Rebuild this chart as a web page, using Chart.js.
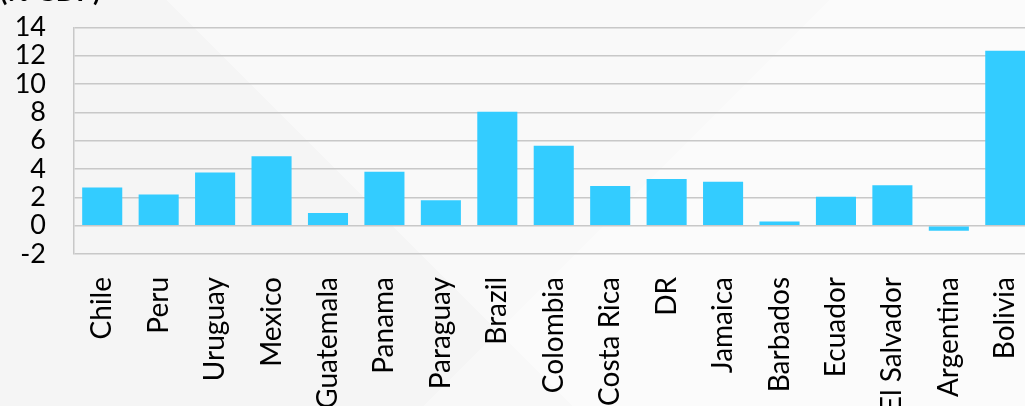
<!DOCTYPE html>
<html>
<head>
<meta charset="utf-8">
<script src="https://cdn.jsdelivr.net/npm/chart.js@4"></script>
<style>
  html, body { margin: 0; padding: 0; }
  body {
    width: 1025px; height: 406px; overflow: hidden; position: relative;
    background:
      linear-gradient(135deg, rgba(255,255,255,0) 58%, rgba(255,255,255,0.35) 58%),
      linear-gradient(45deg, #f5f5f5 40%, #f9f9f9 40%);
  }
  #wrap { position: absolute; left: 0; top: -30px; width: 1054px; height: 480px; }
</style>
</head>
<body>
<div id="wrap"><canvas id="gdpChart"></canvas></div>
<script>
document.addEventListener('DOMContentLoaded', () => {
    // Data (% of GDP)
    const countries = ['Chile', 'Peru', 'Uruguay', 'Mexico', 'Guatemala', 'Panama', 'Paraguay', 'Brazil',
        'Colombia', 'Costa Rica', 'DR', 'Jamaica', 'Barbados', 'Ecuador', 'El Salvador', 'Argentina', 'Bolivia'];
    const values = [2.7, 2.2, 3.75, 4.9, 0.9, 3.8, 1.8, 8.05, 5.65, 2.8, 3.3, 3.1, 0.3, 2.05, 2.85, -0.35, 12.35];
    const yTicks = [-2, 0, 2, 4, 6, 8, 10, 12, 14];

    const font = (size) => ({ family: 'Lato', size: size });

    const config = {
        type: 'bar',
        data: {
            labels: countries,
            datasets: [{
                data: values,
                backgroundColor: '#33ccff',
                borderWidth: 0,
                categoryPercentage: 1,
                barPercentage: 0.71
            }]
        },
        options: {
            responsive: true,
            maintainAspectRatio: false,
            animation: false,
            layout: { padding: { left: 0, right: 4, top: 0, bottom: 0 } },
            plugins: {
                legend: { display: false },
                tooltip: { enabled: false },
                title: {
                    display: true,
                    text: '(% GDP)',
                    align: 'start',
                    color: '#000',
                    font: font(27),
                    padding: { top: 6, bottom: 19 }
                }
            },
            scales: {
                x: {
                    grid: { display: false },
                    border: { display: false },
                    ticks: {
                        color: '#000', font: font(28),
                        autoSkip: false,
                        minRotation: 90, maxRotation: 90,
                        padding: 15
                    },
                    afterFit: (axis) => { axis.height = 196; }
                },
                y: {
                    min: yTicks[0],
                    max: yTicks[yTicks.length - 1],
                    afterBuildTicks: (axis) => { axis.ticks = yTicks.map(v => ({ value: v })); },
                    grid: { color: '#c8c8c8', lineWidth: 1.5, drawTicks: false },
                    border: { color: '#c8c8c8', width: 1.5 },
                    ticks: { color: '#000', font: font(27), padding: 28, autoSkip: false },
                    afterFit: (axis) => { axis.width = 74; }
                }
            }
        }
    };

    const ctx = document.getElementById('gdpChart').getContext('2d');
    new Chart(ctx, config);
});
</script>
</body>
</html>
